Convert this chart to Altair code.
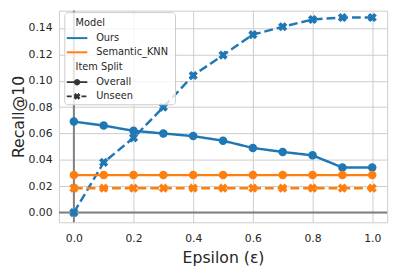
import altair as alt
import pandas as pd

eps = [0.0, 0.1, 0.2, 0.3, 0.4, 0.5, 0.6, 0.7, 0.8, 0.9, 1.0]
ours_overall = [0.069, 0.066, 0.062, 0.060, 0.058, 0.0545, 0.049, 0.046, 0.0434, 0.0342, 0.0342]
ours_unseen = [0.000, 0.038, 0.0567, 0.080, 0.104, 0.1195, 0.135, 0.141, 0.1465, 0.148, 0.148]
knn_overall = [0.0284, 0.0284, 0.0284, 0.0284, 0.0284, 0.0284, 0.0284, 0.0284, 0.0284, 0.0284, 0.0284]
knn_unseen = [0.0185, 0.0185, 0.0185, 0.0185, 0.0185, 0.0185, 0.0185, 0.0185, 0.0185, 0.0185, 0.0185]

models = ["Ours", "Semantic_KNN"]
splits = ["Overall", "Unseen"]
colors = ["#1f77b4", "#ff7f0e"]
y_ticks = [0.0, 0.02, 0.04, 0.06, 0.08, 0.10, 0.12, 0.14]
x_ticks = [0.0, 0.2, 0.4, 0.6, 0.8, 1.0]

rows = []
for m, s, vals in [("Ours", "Overall", ours_overall), ("Ours", "Unseen", ours_unseen),
                   ("Semantic_KNN", "Overall", knn_overall), ("Semantic_KNN", "Unseen", knn_unseen)]:
    for e, v in zip(eps, vals):
        rows.append({"eps": e, "value": v, "model": m, "split": s})
df = pd.DataFrame(rows)

TXT = "#262626"
FONT = "DejaVu Sans"

xscale = alt.Scale(domain=[-0.05, 1.05], nice=False, zero=False)
yscale = alt.Scale(domain=[-0.0074, 0.1532], nice=False, zero=False)
xaxis = alt.Axis(values=x_ticks, format=".1f", title="Epsilon (ε)", tickCount=len(x_ticks))
yaxis = alt.Axis(values=y_ticks, format=".2f", title="Recall@10", tickCount=len(y_ticks))
xenc = alt.X("eps:Q", scale=xscale, axis=xaxis)
yenc = alt.Y("value:Q", scale=yscale, axis=yaxis)
color = alt.Color("model:N", scale=alt.Scale(domain=models, range=colors), legend=None)

base = alt.Chart(df)

zero_v = alt.Chart(pd.DataFrame({"k": [0]})).mark_rule(color="#808080", strokeWidth=2).encode(
    x=alt.XDatum(0, scale=xscale, axis=xaxis))
zero_h = alt.Chart(pd.DataFrame({"k": [0]})).mark_rule(color="#808080", strokeWidth=2).encode(
    y=alt.YDatum(0, scale=yscale, axis=yaxis))

lines = base.mark_line(strokeWidth=2.5).encode(
    x=xenc, y=yenc, color=color,
    strokeDash=alt.StrokeDash("split:N", scale=alt.Scale(domain=splits, range=[[1, 0], [9, 4]]), legend=None),
    detail="split:N",
)
points = base.mark_point(filled=True, opacity=1, angle=45).encode(
    x=xenc, y=yenc, color=color,
    shape=alt.Shape("split:N", scale=alt.Scale(domain=splits, range=["circle", "cross"]), legend=None),
    size=alt.Size("split:N", scale=alt.Scale(domain=splits, range=[75, 90]), legend=None),
)

one = pd.DataFrame({"k": [0]})
leg_layers = [
    alt.Chart(one).mark_rect(fill="white", fillOpacity=0.8, stroke="#cccccc", strokeWidth=1, cornerRadius=3)
    .encode(x=alt.value(6), x2=alt.value(119), y=alt.value(2), y2=alt.value(96))
]
def leg_text(label, x, y):
    return alt.Chart(one).mark_text(text=label, align="left", baseline="middle", font=FONT,
                                    fontSize=10, color=TXT).encode(x=alt.value(x), y=alt.value(y))

leg_layers.append(leg_text("Model", 17, 13))
leg_layers.append(leg_text("Item Split", 17, 58))
for i, (m, c) in enumerate(zip(models, colors)):
    yy = 28 + i * 14.5
    leg_layers.append(alt.Chart(one).mark_rule(color=c, strokeWidth=2)
                      .encode(x=alt.value(8), x2=alt.value(29), y=alt.value(yy)))
    leg_layers.append(leg_text(m, 38, yy))
leg_dash = [[1, 0], [5, 2.5]]
leg_shape = ["circle", "cross"]
leg_size = [40, 50]
for i, s in enumerate(splits):
    yy = 73 + i * 14.5
    leg_layers.append(alt.Chart(one).mark_rule(color="#333333", strokeWidth=1.8, strokeDash=leg_dash[i])
                      .encode(x=alt.value(8), x2=alt.value(29), y=alt.value(yy)))
    leg_layers.append(alt.Chart(one).mark_point(filled=True, opacity=1, color="#333333", shape=leg_shape[i],
                                                angle=45, size=leg_size[i])
                      .encode(x=alt.value(18.5), y=alt.value(yy)))
    leg_layers.append(leg_text(s, 38, yy))

chart = alt.layer(zero_v, zero_h, lines, points, *leg_layers).properties(
    width=335, height=216,
    autosize=alt.AutoSizeParams(type="none"),
    padding={"left": 52, "top": 0, "right": 7, "bottom": 47},
).configure_view(stroke="#cccccc", strokeWidth=1).configure_axis(
    grid=True, gridColor="#cccccc", gridWidth=1, domain=False, ticks=False, tickSize=0,
    labelFont=FONT, labelFontSize=11, labelColor=TXT,
    labelOverlap=False, labelFlush=False,
    titleFont=FONT, titleFontSize=16, titleColor=TXT, titleFontWeight="normal",
).configure_axisX(labelPadding=11, titlePadding=6).configure_axisY(labelPadding=7, titlePadding=2)

chart.save("out.html", embed_options={"renderer": "svg", "actions": False})
